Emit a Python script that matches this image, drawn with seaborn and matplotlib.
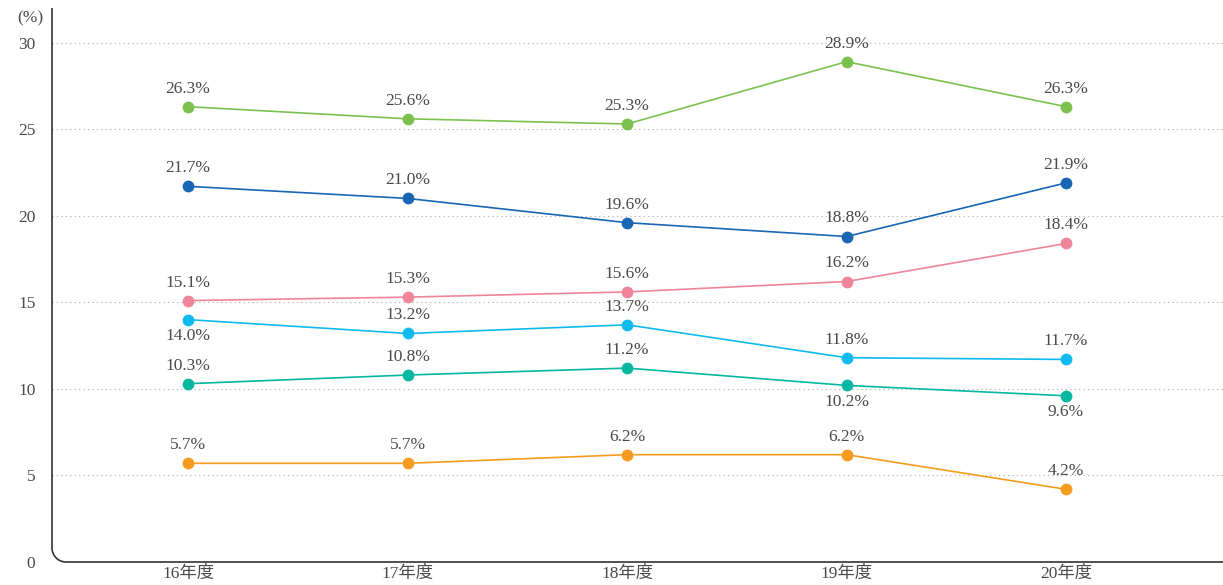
import numpy as np
import pandas as pd
import matplotlib
matplotlib.use('Agg')
import matplotlib.pyplot as plt
from matplotlib.path import Path
from matplotlib.patches import PathPatch
import seaborn as sns

# Data
years = ['16年度', '17年度', '18年度', '19年度', '20年度']
series_a = [26.3, 25.6, 25.3, 28.9, 26.3]   # green
series_b = [21.7, 21.0, 19.6, 18.8, 21.9]   # dark blue
series_c = [15.1, 15.3, 15.6, 16.2, 18.4]   # pink
series_d = [14.0, 13.2, 13.7, 11.8, 11.7]   # cyan
series_e = [10.3, 10.8, 11.2, 10.2, 9.6]    # teal
series_f = [5.7, 5.7, 6.2, 6.2, 4.2]        # orange
series_names = ['A', 'B', 'C', 'D', 'E', 'F']
colors = ['#7cc14e', '#1866b4', '#ef8599', '#10baee', '#06b7a2', '#f59c1e']
# label below the point?
below = {
    'D': [True, False, False, False, False],
    'E': [False, False, False, True, True],
}

all_values = [series_a, series_b, series_c, series_d, series_e, series_f]
rows = []
for name, vals in zip(series_names, all_values):
    for i, v in enumerate(vals):
        rows.append({'x': i, 'year': years[i], 'value': v, 'series': name})
df = pd.DataFrame(rows)

sns.set_theme(style='white')
plt.rcParams['font.family'] = ['Liberation Serif', 'Noto Sans CJK JP', 'DejaVu Sans']
text_color = '#4a4a4a'

fig = plt.figure(figsize=(12.23, 5.85), dpi=100)
ax = fig.add_axes([52 / 1223, 23 / 585, 1 - 52 / 1223, 554 / 585])

sns.lineplot(data=df, x='x', y='value', hue='series', palette=colors,
             marker='o', markersize=8.5, markeredgewidth=0, linewidth=1.2,
             legend=False, ax=ax, zorder=3)

for name, vals in zip(series_names, all_values):
    flags = below.get(name, [False] * len(vals))
    for i, v in enumerate(vals):
        off = -12 if flags[i] else 13
        ax.annotate(f'{v:.1f}%', (i, v), xytext=(0, off), textcoords='offset points',
                    ha='center', va='center',
                    fontsize=12.5, color=text_color, zorder=4)

ax.set_xlim(-0.62, 4.715)
ax.set_ylim(0, 32)
ax.set_xticks(range(len(years)))
ax.set_xticklabels(years)
ax.set_yticks([0, 5, 10, 15, 20, 25, 30])
ax.set_xlabel('')
ax.set_ylabel('')
ax.tick_params(axis='both', length=0, labelsize=12.5, colors=text_color)
ax.tick_params(axis='y', pad=12)
ax.tick_params(axis='x', pad=3)
ax.yaxis.grid(True, linestyle=(0, (1, 3)), color='#aaaaaa', linewidth=0.8)
ax.xaxis.grid(False)
for s in ax.spines.values():
    s.set_visible(False)

# axis frame with rounded corner
rx = 14 / (1223 - 52)
ry = 14 / 554
k = 0.45
verts = [(0, 1), (0, ry), (0, ry * k), (rx * k, 0), (rx, 0), (1, 0)]
codes = [Path.MOVETO, Path.LINETO, Path.CURVE4, Path.CURVE4, Path.CURVE4, Path.LINETO]
frame = PathPatch(Path(verts, codes), transform=ax.transAxes, fill=False,
                  edgecolor='#333333', linewidth=1.2, clip_on=False, zorder=5)
ax.add_patch(frame)

fig.text(30 / 1223, 1 - 18 / 585, '(%)', ha='center', va='center',
         fontsize=12.5, color=text_color)

fig.savefig('out.png', dpi=100)
